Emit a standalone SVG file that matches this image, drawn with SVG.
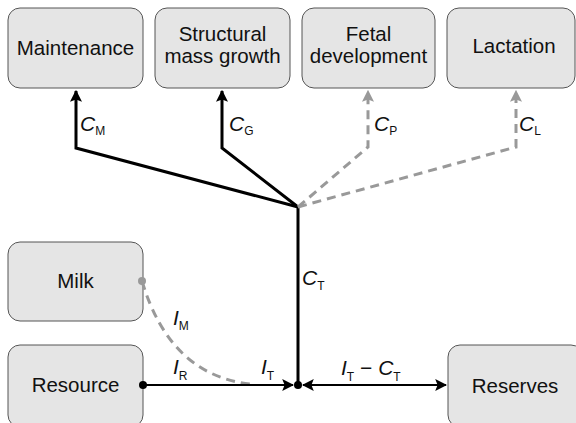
<svg xmlns="http://www.w3.org/2000/svg" width="576" height="423" viewBox="0 0 576 423">
<style>
.box{fill:#e5e5e5;stroke:#555;stroke-width:1}
.lbl{font-family:"Liberation Sans",Arial,sans-serif;font-size:20.5px;fill:#111;text-anchor:middle}
.v{font-family:"Liberation Sans",Arial,sans-serif;font-size:21px;font-style:italic;fill:#111}
.s{font-size:12px;font-style:normal}
.blk{fill:none;stroke:#000;stroke-width:3;stroke-linejoin:miter}
.thin{fill:none;stroke:#000;stroke-width:2}
.gry{fill:none;stroke:#999;stroke-width:3;stroke-dasharray:9,6}
</style>
<defs>
<marker id="ab" viewBox="0 0 10 10" refX="9" refY="5" markerWidth="4" markerHeight="4" orient="auto" markerUnits="strokeWidth"><path d="M0,0 L10,5 L0,10 L2,5 z" fill="#000"/></marker>
<marker id="ab2" viewBox="0 0 10 10" refX="9" refY="5" markerWidth="6" markerHeight="6" orient="auto-start-reverse" markerUnits="strokeWidth"><path d="M0,0 L10,5 L0,10 L2,5 z" fill="#000"/></marker>
<marker id="ag" viewBox="0 0 10 10" refX="9" refY="5" markerWidth="4" markerHeight="4" orient="auto" markerUnits="strokeWidth"><path d="M0,0 L10,5 L0,10 L2,5 z" fill="#999"/></marker>
</defs>
<g id="maintenance"><rect class="box" x="8" y="8" width="135" height="80" rx="12"/><text class="lbl" x="75.5" y="55">Maintenance</text></g>
<g id="growth"><rect class="box" x="155" y="8" width="135" height="80" rx="12"/><text class="lbl" x="222.5" y="41">Structural</text><text class="lbl" x="222.5" y="63">mass growth</text></g>
<g id="fetal"><rect class="box" x="302" y="8" width="133" height="80" rx="12"/><text class="lbl" x="368.5" y="41">Fetal</text><text class="lbl" x="368.5" y="63">development</text></g>
<g id="lactation"><rect class="box" x="447" y="8" width="128" height="80" rx="12"/><text class="lbl" x="514" y="53">Lactation</text></g>
<g id="milk"><rect class="box" x="8" y="242" width="135" height="79" rx="12"/><text class="lbl" x="75.5" y="288">Milk</text></g>
<g id="resource"><rect class="box" x="8" y="345" width="135" height="82" rx="12"/><text class="lbl" x="75.5" y="392">Resource</text></g>
<g id="reserves"><rect class="box" x="448" y="345" width="135" height="82" rx="12"/><text class="lbl" x="515" y="393">Reserves</text></g>
<g id="connectors">
<path class="blk" d="M298,385 L298,207 L76,148 L76,91" marker-end="url(#ab)"/>
<path class="blk" d="M298,207 L222,148 L222,91" marker-end="url(#ab)"/>
<path class="gry" d="M298,207 L368,147 L368,91" marker-end="url(#ag)"/>
<path class="gry" d="M298,207 L516,147 L516,91" marker-end="url(#ag)"/>
<path class="gry" d="M142,281 Q170,375 250,384"/>
<path class="thin" d="M143,385 L293,385" marker-end="url(#ab2)"/>
<path class="thin" d="M303,385 L446,385" marker-start="url(#ab2)" marker-end="url(#ab2)"/>
<circle cx="143" cy="385" r="4" fill="#000"/>
<circle cx="298" cy="385" r="4" fill="#000"/>
<circle cx="142" cy="281" r="4" fill="#999"/>
<text class="v" x="80" y="131">C<tspan class="s" dy="4">M</tspan></text>
<text class="v" x="229" y="131">C<tspan class="s" dy="4">G</tspan></text>
<text class="v" x="374" y="131">C<tspan class="s" dy="4">P</tspan></text>
<text class="v" x="519" y="131">C<tspan class="s" dy="4">L</tspan></text>
<text class="v" x="302" y="285">C<tspan class="s" dy="5">T</tspan></text>
<text class="v" x="173" y="325">I<tspan class="s" dy="5">M</tspan></text>
<text class="v" x="173" y="374">I<tspan class="s" dy="6">R</tspan></text>
<text class="v" x="261" y="374">I<tspan class="s" dy="6">T</tspan></text>
<text class="v" x="341" y="375">I<tspan class="s" dy="6">T</tspan><tspan dy="-6" font-style="normal"> − </tspan>C<tspan class="s" dy="6">T</tspan></text>
</g>
</svg>
